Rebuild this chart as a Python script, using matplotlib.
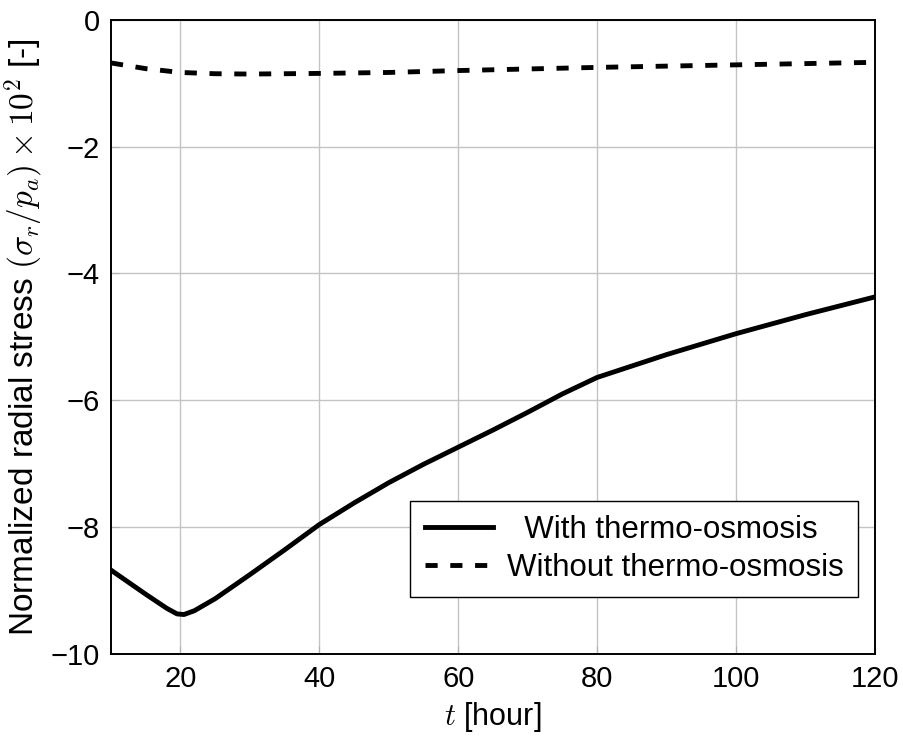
import matplotlib
matplotlib.use('Agg')
import matplotlib.pyplot as plt

plt.rcParams['font.family'] = ['Liberation Sans', 'DejaVu Sans']
plt.rcParams['mathtext.fontset'] = 'cm'

# data
t_with = [10, 15, 18, 19.5, 20.5, 22, 25, 30, 35, 40, 45, 50, 55, 60, 65, 70, 75, 80, 90, 100, 110, 120]
s_with = [-8.68, -9.06, -9.28, -9.37, -9.38, -9.32, -9.13, -8.75, -8.36, -7.96, -7.62, -7.30,
          -7.01, -6.74, -6.47, -6.19, -5.90, -5.64, -5.28, -4.95, -4.65, -4.37]

t_without = [10, 15, 20, 25, 30, 40, 50, 60, 70, 80, 90, 100, 110, 120]
s_without = [-0.68, -0.77, -0.83, -0.85, -0.855, -0.845, -0.83, -0.80, -0.775, -0.75, -0.73,
             -0.71, -0.69, -0.67]

labels = ['  With thermo-osmosis', 'Without thermo-osmosis']
xticks = [20, 40, 60, 80, 100, 120]
yticks = [0, -2, -4, -6, -8, -10]

fig = plt.figure(figsize=(9.04, 7.43), dpi=100)
ax = fig.add_axes([0.1228, 0.12, 0.8451, 0.8533])

ax.plot(t_with, s_with, color='black', lw=3.5, label=labels[0], solid_joinstyle='round')
ax.plot(t_without, s_without, color='black', lw=3.5, dashes=(2.5, 2.6), label=labels[1])

ax.set_xlim(10, 120)
ax.set_ylim(-10, 0)
ax.set_xticks(xticks)
ax.set_yticks(yticks)
ax.grid(True, color='#c4c4c4', lw=1.0)
ax.tick_params(direction='in', length=6, color='#b0b0b0', labelsize=21, pad=8)
for sp in ax.spines.values():
    sp.set_linewidth(1.4)

ax.set_xlabel('$t$ [hour]', fontsize=22, labelpad=5)
ax.set_ylabel(r'Normalized radial stress $(\sigma_r/p_a)\times10^2$ [-]', fontsize=24, labelpad=3)

leg = ax.legend(loc='lower right', bbox_to_anchor=(0.978, 0.09), fontsize=22.5, frameon=True,
                fancybox=False, edgecolor='black', framealpha=1, handlelength=2.2,
                handletextpad=0.45, borderpad=0.45, labelspacing=0.25, borderaxespad=0)
leg.get_frame().set_linewidth(1.0)

fig.savefig('out.png', dpi=100)
